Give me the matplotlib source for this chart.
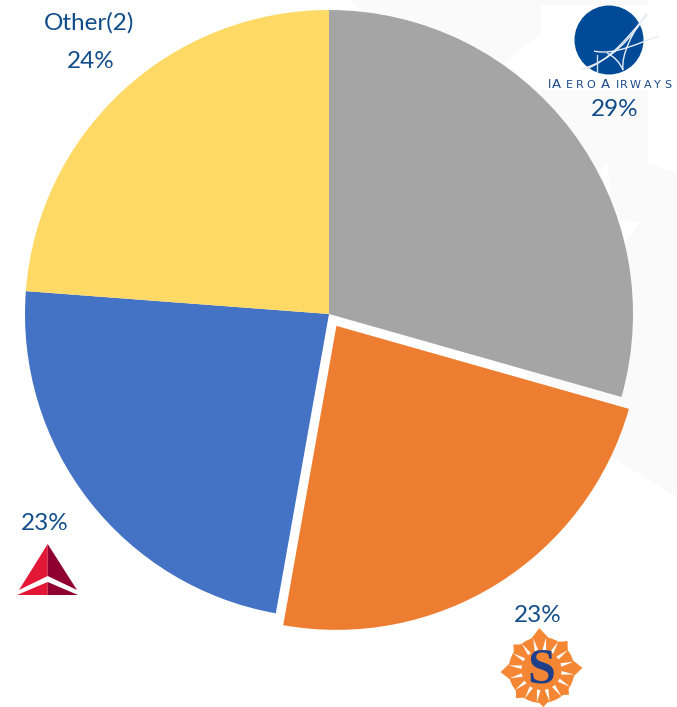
import matplotlib
matplotlib.use('Agg')
import matplotlib.pyplot as plt
from matplotlib.patches import Polygon, Circle, PathPatch
from matplotlib.path import Path
import numpy as np

# pie shares, clockwise from 12 o'clock
shares = [29.4, 23.4, 23.4, 23.8]
pct_labels = ['29%', '23%', '23%', '24%']
slice_colors = ['#a5a5a5', '#ed7d31', '#4472c4', '#ffd966']
explode_px = [0, 14, 0, 0]

H = 707
text_blue = '#114d8a'


def flip(pts):
    # picture pixels (y down) to axes coords (y up)
    return [(x, H - y) for x, y in pts]


fig = plt.figure(figsize=(6.77, 7.07), dpi=100)
ax = fig.add_axes([0, 0, 1, 1])

# faint watermark behind the pie
ax.add_patch(Polygon(flip([(349, 0), (648, 0), (648, 163), (677, 173),
                           (677, 497), (613, 458), (450, 300), (370, 20)]),
                     fc='#fafafa', ec='none', zorder=0))
ax.add_patch(Polygon(flip([(541, 33), (505, 62), (541, 100)]), fc='white', ec='none', zorder=0.5))
ax.add_patch(Polygon(flip([(600, 173), (608, 161), (610, 195)]), fc='white', ec='none', zorder=0.5))
ax.add_patch(Polygon(flip([(618, 218), (640, 223), (625, 243)]), fc='white', ec='none', zorder=0.5))

wedges, _ = ax.pie(shares, colors=slice_colors, explode=explode_px, center=(329, H - 314),
                   radius=304, startangle=90, counterclock=False)
for w in wedges:
    w.set_zorder(2)

ax.set_xlim(0, 677)
ax.set_ylim(0, H)
ax.set_aspect('auto')
ax.axis('off')

label_kw = dict(color=text_blue, fontsize=17.5, family='Lato', ha='center', va='center', zorder=5)
ax.text(615, H - 109, pct_labels[0], **label_kw)
ax.text(537.5, H - 615, pct_labels[1], **label_kw)
ax.text(45, H - 524, pct_labels[2], **label_kw)
ax.text(90.5, H - 62, pct_labels[3], **label_kw)
ax.text(89, H - 23, 'Other(2)', **label_kw)

# iAero logo
ax.add_patch(Polygon(flip([(541, 5), (650, 5), (650, 90), (541, 90)]), fc='white', ec='none', zorder=1))
ax.add_patch(Circle((609, H - 40), 34.5, fc='#004a98', ec='none', zorder=3))
logo_curves = [
    [(581, 69), (610, 62), (632, 38), (647, 13)],
    [(594, 51), (615, 56), (640, 42), (659, 36)],
    [(607, 53), (615, 57), (620, 63), (623, 70)],
    [(623, 70), (621, 55), (632, 32), (647, 13)],
    [(586, 69), (610, 60), (625, 40), (647, 15)],
]
codes = [Path.MOVETO, Path.CURVE4, Path.CURVE4, Path.CURVE4]
for curve in logo_curves:
    ax.add_patch(PathPatch(Path(flip(curve), codes), fc='none', ec='#e8eef6', lw=1.0, zorder=4))
ax.plot(*zip(*flip([(597, 55), (597, 72)])), color='#d5deec', lw=1.0, zorder=4)

letters = list('IAEROAIRWAYS')
letter_x = [548, 552, 566, 576, 586, 601, 616, 620, 630, 644, 654, 664]
letter_size = [8.5, 9.5, 8, 8, 8, 9.5, 8, 8, 8, 8, 8, 8]
for ch, lx, ls in zip(letters, letter_x, letter_size):
    ax.text(lx, H - 88, ch, color='#1b4a8c', family='DejaVu Sans', fontsize=ls,
            va='baseline', ha='left', zorder=5)

# Delta logo
ax.add_patch(Polygon(flip([(47.7, 544), (47.7, 576), (19, 590)]), fc='#e31837', ec='none', zorder=3))
ax.add_patch(Polygon(flip([(47.7, 544), (47.7, 576), (77, 590)]), fc='#8f0030', ec='none', zorder=3))
ax.add_patch(Polygon(flip([(17, 595), (47.7, 582), (47.7, 595)]), fc='#e31837', ec='none', zorder=3))
ax.add_patch(Polygon(flip([(78, 595), (47.7, 582), (47.7, 595)]), fc='#8f0030', ec='none', zorder=3))

# Sun Country logo
sun_c = np.array([541.5, 670.0])
ax.add_patch(Circle((sun_c[0], H - sun_c[1]), 33, fc='#f58634', ec='none', zorder=3))
for deg, r in zip(range(0, 360, 45), [42, 39, 41, 37, 37, 38, 41, 38]):
    a = np.radians(deg - 3)
    tip = sun_c + r * np.array([np.sin(a), -np.cos(a)])
    side = np.array([np.cos(a), np.sin(a)])
    ax.add_patch(Polygon(flip([tip, sun_c + side * 16 + (tip - sun_c) * 0.55,
                               sun_c - side * 16 + (tip - sun_c) * 0.55]),
                         fc='#f58634', ec='none', zorder=3))
for deg in np.arange(0, 360, 22.5):
    a = np.radians(deg + 8)
    u = np.array([np.sin(a), -np.cos(a)])
    s = np.array([np.cos(a), np.sin(a)]) * 1.8
    ax.add_patch(Polygon(flip([sun_c + u * 33, sun_c + u * 20 + s, sun_c + u * 20 - s]),
                         fc='white', ec='none', zorder=3.5))
ax.text(sun_c[0], H - 670.5, 'S', color='#1f3f8a', fontsize=36, fontweight='bold',
        family='Liberation Serif', ha='center', va='center', zorder=5)

fig.savefig('out.png', dpi=100)
